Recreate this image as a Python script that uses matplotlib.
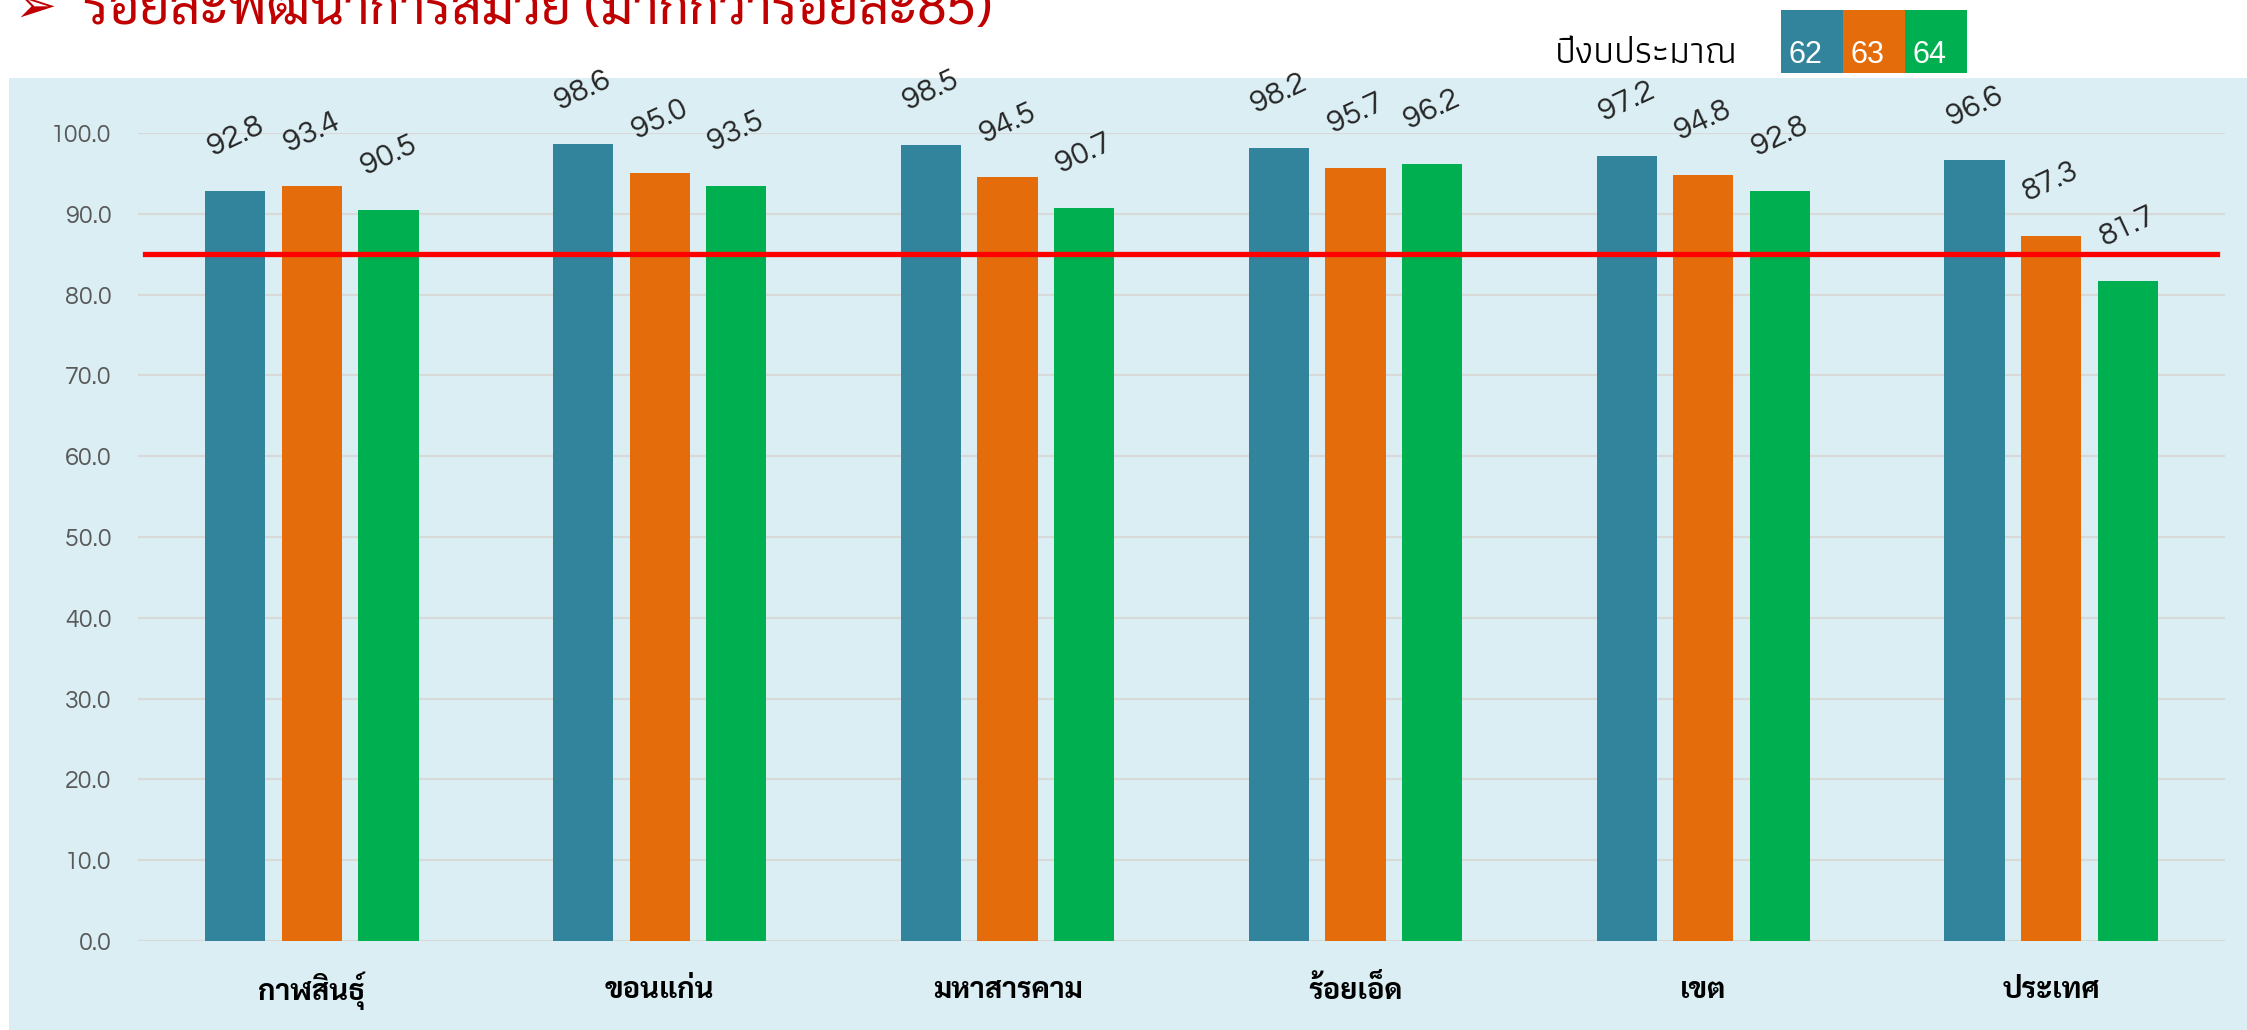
import matplotlib
matplotlib.use("Agg")
import matplotlib.pyplot as plt
from matplotlib import font_manager
from matplotlib.patches import Rectangle
import numpy as np

# provinces / budget years
provinces = ["กาฬสินธุ์", "ขอนแก่น", "มหาสารคาม", "ร้อยเอ็ด", "เขต", "ประเทศ"]
years = ["62", "63", "64"]
y62 = [92.8, 98.6, 98.5, 98.2, 97.2, 96.6]
y63 = [93.4, 95.0, 94.5, 95.7, 94.8, 87.3]
y64 = [90.5, 93.5, 90.7, 96.2, 92.8, 81.7]
target = 85
yticks = [0, 10, 20, 30, 40, 50, 60, 70, 80, 90, 100]

title = "ร้อยละพัฒนาการสมวัย (มากกว่าร้อยละ85)"
legend_title = "ปีงบประมาณ"
colors = ["#31849B", "#E46C0A", "#00B050"]

installed = set(f.name for f in font_manager.fontManager.ttflist)
def pick(*names):
    for n in names:
        if n in installed:
            return n
    return "DejaVu Sans"

thai = pick("Sarabun", "Noto Sans Thai Looped", "Noto Sans Thai", "Anuphan")
thai_thin = pick("Athiti", "Noto Sans Thai", "Anuphan", "Sarabun")
num = pick("Questrial", "Didact Gothic", "Poppins", "DejaVu Sans")

fig = plt.figure(figsize=(22.47, 10.3), dpi=100)
fig.patch.set_facecolor("white")

# light blue panel behind the chart
fig.patches.append(Rectangle((9 / 2247, 0), 1, 952 / 1030, transform=fig.transFigure,
                             facecolor="#DAEEF3", edgecolor="none", zorder=-5))

ax = fig.add_axes([138 / 2247, 89 / 1030, 2087 / 2247, 808 / 1030])
ax.set_facecolor("none")
ax.set_zorder(2)

x = np.arange(len(provinces))
w = 0.173
step = 0.22
for k, vals in enumerate([y62, y63, y64]):
    xs = x + (k - 1) * step
    ax.bar(xs, vals, width=w, color=colors[k], zorder=3)
    for xi, v in zip(xs, vals):
        ax.annotate("%.1f" % v, (xi, v), xytext=(0, 39), textcoords="offset points",
                    rotation=25, rotation_mode="anchor", ha="center", va="center",
                    fontsize=22.5, color="#262626", family=num, annotation_clip=False)

ax.axhline(target, xmin=0.0035, xmax=0.996, color="#FF0000", lw=3.8, zorder=4)

ax.set_xlim(-0.5, 5.5)
ax.set_ylim(0, 100)
ax.set_yticks(yticks)
ax.set_yticklabels(["%.1f" % t for t in yticks], family=num, fontsize=18, color="#595959")
ax.yaxis.grid(True, color="#D9D9D9", lw=1.5, zorder=0)
ax.axhline(0, color="#D0D0D0", lw=2, zorder=1)
ax.set_xticks(x)
ax.set_xticklabels(provinces, family=thai, fontweight="bold", fontsize=21, color="black")
for lab in ax.get_xticklabels():
    lab.set_va("center")
ax.tick_params(axis="x", length=0, pad=36)
ax.tick_params(axis="y", length=0, pad=19)
for s in ax.spines.values():
    s.set_visible(False)

# title, partly running off the top edge
fig.text(14 / 2247, 1 - 22 / 1030, "➢", color="#C00000", fontsize=36,
         family=["DejaVu Sans"], va="baseline")
fig.text(83 / 2247, 1 - 24 / 1030, title, color="#C00000", fontsize=38,
         family=[thai, "DejaVu Sans"], va="baseline")

# legend of budget years
fig.text(1555 / 2247, 1 - 63 / 1030, legend_title, family=thai_thin, fontsize=27,
         ha="left", va="baseline", color="black")
for k, yr in enumerate(years):
    x0 = 1781 + k * 62
    fig.patches.append(Rectangle((x0 / 2247, 1 - 73 / 1030), 62 / 2247, 63 / 1030,
                                 transform=fig.transFigure, facecolor=colors[k],
                                 edgecolor="none"))
    fig.text((x0 + 8) / 2247, 1 - 63 / 1030, yr, family="Liberation Sans", fontsize=22,
             color="white", ha="left", va="baseline")

fig.savefig("out.png", dpi=100)
